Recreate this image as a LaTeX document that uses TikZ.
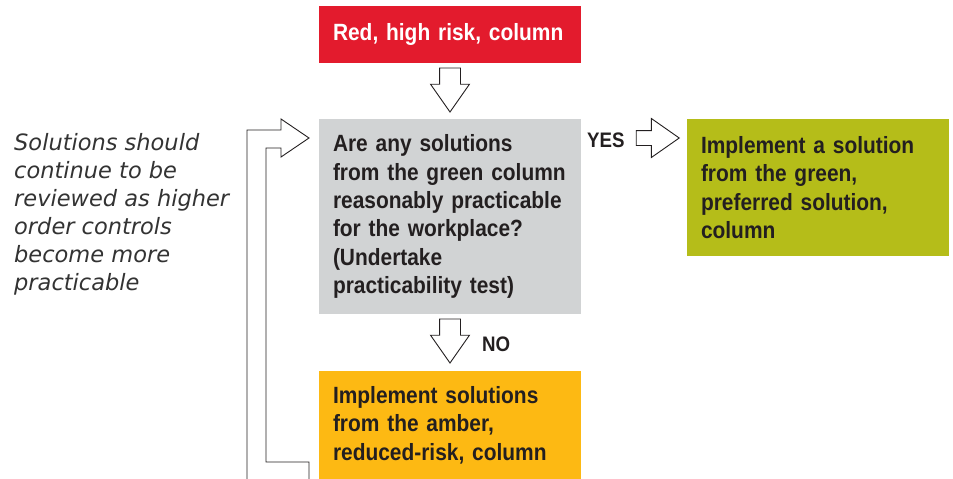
\documentclass[tikz,border=0pt]{standalone}
\usepackage{fontspec}
\usetikzlibrary{shapes.arrows,calc}
\newfontfamily\boxfont[FakeStretch=0.89]{Liberation Sans}
\newfontfamily\notefont{DejaVu Sans}
\definecolor{riskred}{HTML}{E31B2D}
\definecolor{testgray}{HTML}{D1D3D4}
\definecolor{goodgreen}{HTML}{B5BD19}
\definecolor{amber}{HTML}{FDB913}
\definecolor{ink}{HTML}{231F20}
\tikzset{
  box/.style={rectangle, minimum width=262pt, text width=234pt, inner xsep=14pt,
    align=left, text=ink, font=\boxfont\bfseries\fontsize{23.5}{28.3}\selectfont},
  blockarrow/.style={single arrow, draw=ink, fill=white, line width=0.9pt,
    single arrow tip angle=70, inner xsep=0pt, inner ysep=10pt,
    single arrow head extend=9pt, minimum height=44pt},
  answer/.style={anchor=base west, inner sep=0pt, text=ink,
    font=\boxfont\bfseries\fontsize{21}{24}\selectfont}
}
\begin{document}
\begin{tikzpicture}[x=1pt,y=-1pt]
\useasboundingbox (0,0) rectangle (953,479);
\node[box, fill=riskred, text=white, minimum height=57pt] (red) at (450,34.5) {Red, high risk, column};
\node[box, fill=testgray, minimum height=195pt] (test) at (450,216.5) {Are any solutions\\
  from the green column\\ reasonably practicable\\ for the workplace?\\ (Undertake\\ practicability test)};
\node[box, fill=goodgreen, minimum height=137pt] (green) at (818,187.5) {Implement a solution\\
  from the green,\\ preferred solution,\\ column};
\node[box, fill=amber, minimum height=108pt] (amber) at (450,425) {Implement solutions\\
  from the amber,\\ reduced-risk, column};
\node[anchor=north west, inner sep=0pt, align=left, text=black!80,
  font=\notefont\itshape\fontsize{22.5}{28}\selectfont] (note) at (14,133) {Solutions should\\
  continue to be\\ reviewed as higher\\ order controls\\ become more\\ practicable};
% block arrows
\node[blockarrow, rotate=-90, anchor=tip] (down1) at ([yshift=6pt]test.north) {};
\node[blockarrow, rotate=-90, anchor=tip] (down2) at ([yshift=7pt]amber.north) {};
\node[blockarrow, inner ysep=7pt, single arrow head extend=12pt, minimum height=43pt,
  anchor=tip] (right) at (680,138) {};
\node[answer] (yes) at (587,147) {YES};
\node[answer] (no) at (482,351) {NO};
% loop back
\draw[line width=0.9pt, draw=ink] (247,479) -- (247,130) -- (281,130) -- (281,119) -- (309,138)
  -- (281,157) -- (281,148) -- (266,148) -- (266,462) -- (309,462) -- (309,479);
\end{tikzpicture}
\end{document}
